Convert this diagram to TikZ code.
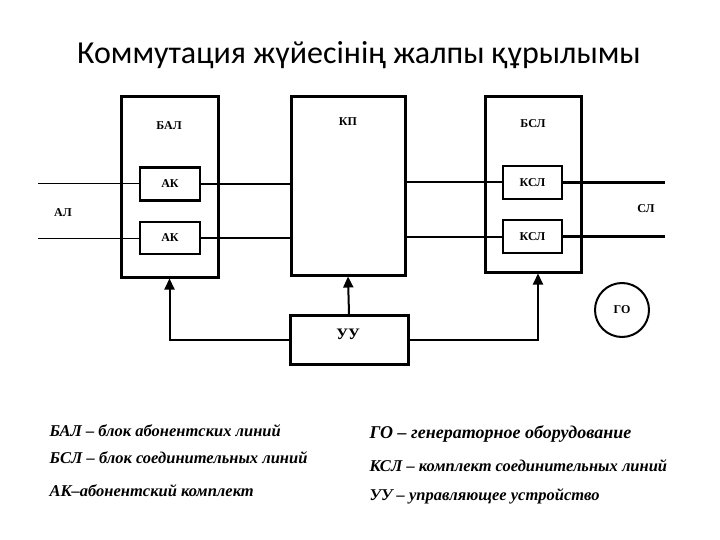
\documentclass[tikz,border=0pt]{standalone}
\usepackage{fontspec}
\setmainfont{Liberation Serif}
\newfontfamily\titlefont{Carlito}
\usetikzlibrary{arrows.meta}
\begin{document}
\begin{tikzpicture}[x=1pt,y=-1pt,
  blk/.style={draw,line width=3pt},
  sub/.style={draw,line width=2.6pt},
  lbl/.style={font=\bfseries\fontsize{12}{14}\selectfont},
  wire/.style={line width=2pt},
  thin/.style={line width=1pt},
  arr/.style={line width=2pt,-{Triangle[length=11pt,width=10pt]}},
  leg/.style={anchor=west,font=\bfseries\itshape\fontsize{16.5}{19}\selectfont}]
\useasboundingbox (0,0) rectangle (720,540);
\node[font=\titlefont\fontsize{32}{36}\selectfont] (title) at (359,55) {Коммутация жүйесінің жалпы құрылымы};
\node[blk,minimum width=97pt,minimum height=180pt] (bal) at (169.5,187) {};
\node[blk,minimum width=114pt,minimum height=178pt] (kp) at (348,186) {};
\node[blk,minimum width=96pt,minimum height=175pt] (bsl) at (533,184.5) {};
\node[lbl] (balt) at (169,126) {БАЛ};
\node[lbl] (kpt) at (348,122) {КП};
\node[lbl] (bslt) at (533,124) {БСЛ};
\node[sub,minimum width=60pt,minimum height=33pt,lbl] (ak1) at (170,184) {АК};
\node[sub,minimum width=60pt,minimum height=32pt,lbl] (ak2) at (170,238) {АК};
\node[sub,minimum width=59pt,minimum height=33pt,lbl] (ksl1) at (532.5,182.5) {КСЛ};
\node[sub,minimum width=59pt,minimum height=33pt,lbl] (ksl2) at (532.5,236.5) {КСЛ};
\node[blk,minimum width=118pt,minimum height=49pt] (uu) at (349,340) {};
\node[font=\bfseries\fontsize{16}{18}\selectfont] (uut) at (348,334) {УУ};
\node[draw,circle,line width=2pt,minimum size=54pt,lbl] (go) at (622,310) {ГО};
\coordinate (l1) at (38,184);
\coordinate (l2) at (38,238);
\coordinate (r1) at (665,184);
\coordinate (r2) at (665,237);
\node[lbl] (al) at (63,213) {АЛ};
\node[lbl] (sl) at (646,209) {СЛ};
\draw[thin] (l1) -- (ak1.west);
\draw[thin] (l2) -- (ak2.west);
\draw[wire] (ak1.east) -- (kp.west |- ak1.east);
\draw[wire] (ak2.east) -- (kp.west |- ak2.east);
\draw[wire] (kp.east |- ksl1.west) -- (ksl1.west);
\draw[wire] (kp.east |- ksl2.west) -- (ksl2.west);
\draw[line width=3pt] (ksl1.east) -- (r1 |- ksl1.east);
\draw[line width=3pt] (ksl2.east) -- (r2 |- ksl2.east);
\draw[arr] (uu.north) -- (kp.south);
\draw[arr] (uu.west) -| (bal.south);
\draw[arr] (uu.east) -| ([xshift=5pt]bsl.south);
\node[leg] (g1) at (46,431) {БАЛ – блок абонентских линий};
\node[leg] (g2) at (46,458) {БСЛ – блок соединительных линий};
\node[leg] (g3) at (46,491) {АК–абонентский комплект};
\node[leg,font=\bfseries\itshape\fontsize{18}{21}\selectfont] (g4) at (366,434) {ГО – генераторное оборудование};
\node[leg] (g5) at (366,466) {КСЛ – комплект соединительных линий};
\node[leg] (g6) at (366,496) {УУ – управляющее устройство};
\end{tikzpicture}
\end{document}
